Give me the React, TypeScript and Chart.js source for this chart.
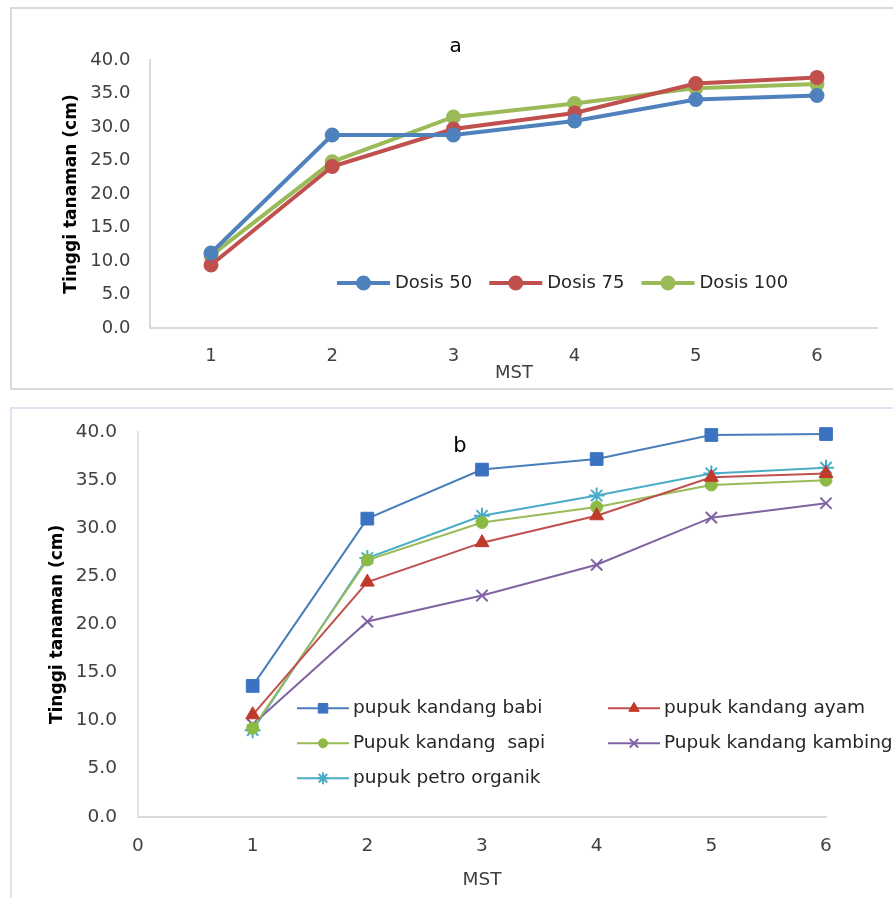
import React, { useEffect, useRef } from 'react';
import { Chart, registerables } from 'chart.js';

Chart.register(...registerables);

// ---------- Data: chart a ----------
const weeksA = ['1', '2', '3', '4', '5', '6'];
const dosis50 = [11.2, 28.8, 28.8, 30.9, 34.1, 34.7];
const dosis75 = [9.4, 24.1, 29.7, 32.1, 36.5, 37.4];
const dosis100 = [10.8, 24.8, 31.5, 33.5, 35.8, 36.4];

// ---------- Data: chart b ----------
const weeksB = [1, 2, 3, 4, 5, 6];
const babi = [13.6, 31.0, 36.1, 37.2, 39.7, 39.8];
const ayam = [10.6, 24.4, 28.5, 31.3, 35.3, 35.7];
const sapi = [9.2, 26.7, 30.6, 32.2, 34.5, 35.0];
const kambing = [9.6, 20.3, 23.0, 26.2, 31.1, 32.6];
const petro = [9.0, 26.9, 31.3, 33.4, 35.7, 36.3];

const FONT = "'DejaVu Sans', Verdana, sans-serif";

function drawMarker(
  ctx: CanvasRenderingContext2D,
  style: string,
  x: number,
  y: number,
  r: number,
  fill: string,
  stroke: string,
  lw: number
) {
  ctx.save();
  ctx.fillStyle = fill;
  ctx.strokeStyle = stroke;
  ctx.lineWidth = lw;
  ctx.beginPath();
  if (style === 'circle') {
    ctx.arc(x, y, r, 0, Math.PI * 2);
    ctx.fill();
    if (lw) ctx.stroke();
  } else if (style === 'rect') {
    const s = r * Math.SQRT1_2;
    ctx.rect(x - s, y - s, 2 * s, 2 * s);
    ctx.fill();
    if (lw) ctx.stroke();
  } else if (style === 'triangle') {
    ctx.moveTo(x, y - r);
    ctx.lineTo(x + r * 0.866, y + r * 0.5);
    ctx.lineTo(x - r * 0.866, y + r * 0.5);
    ctx.closePath();
    ctx.fill();
    if (lw) ctx.stroke();
  } else if (style === 'crossRot' || style === 'star') {
    const d = r * Math.SQRT1_2;
    ctx.moveTo(x - d, y - d);
    ctx.lineTo(x + d, y + d);
    ctx.moveTo(x - d, y + d);
    ctx.lineTo(x + d, y - d);
    if (style === 'star') {
      ctx.moveTo(x, y - r);
      ctx.lineTo(x, y + r);
      ctx.moveTo(x - r, y);
      ctx.lineTo(x + r, y);
    }
    ctx.stroke();
  }
  ctx.restore();
}

type OverlayCfg = {
  id: string;
  title: { text: string; x: number; y: number; size: number };
  legend: {
    size: number;
    lineLen: number;
    gap: number;
    itemGap: number;
    markerScale: number;
    x?: number;
    y?: number;
    cols?: number[];
    rows?: number[];
  };
};

function overlayPlugin(cfg: OverlayCfg) {
  return {
    id: cfg.id,
    afterDraw(chart: any) {
      const ctx: CanvasRenderingContext2D = chart.ctx;
      ctx.save();
      ctx.font = `${cfg.title.size}px ${FONT}`;
      ctx.fillStyle = '#000';
      ctx.textAlign = 'center';
      ctx.textBaseline = 'middle';
      ctx.fillText(cfg.title.text, cfg.title.x, cfg.title.y);

      const lg = cfg.legend;
      ctx.font = `${lg.size}px ${FONT}`;
      ctx.textAlign = 'left';
      let cx = lg.x || 0;
      chart.data.datasets.forEach((ds: any, i: number) => {
        let lx: number, ly: number;
        if (lg.cols && lg.rows) {
          lx = lg.cols[i % lg.cols.length];
          ly = lg.rows[Math.floor(i / lg.cols.length)];
        } else {
          lx = cx;
          ly = lg.y || 0;
        }
        ctx.strokeStyle = ds.borderColor;
        ctx.lineWidth = ds.borderWidth;
        ctx.beginPath();
        ctx.moveTo(lx, ly);
        ctx.lineTo(lx + lg.lineLen, ly);
        ctx.stroke();
        drawMarker(
          ctx,
          ds.pointStyle,
          lx + lg.lineLen / 2,
          ly,
          ds.pointRadius * lg.markerScale,
          ds.pointBackgroundColor,
          ds.pointBorderColor,
          ds.pointBorderWidth
        );
        ctx.fillStyle = '#262626';
        ctx.fillText(ds.label, lx + lg.lineLen + lg.gap, ly);
        cx = lx + lg.lineLen + lg.gap + ctx.measureText(ds.label).width + lg.itemGap;
      });
      ctx.restore();
    },
  };
}

function yTickFmt(v: any) {
  return Number(v).toFixed(1);
}

function topConfig(): any {
  const mk = (label: string, data: number[], color: string) => ({
    label,
    data,
    borderColor: color,
    backgroundColor: color,
    borderWidth: 4,
    pointStyle: 'circle',
    pointRadius: 6,
    pointBorderWidth: 3,
    pointBackgroundColor: color,
    pointBorderColor: color,
    tension: 0,
    clip: false,
  });
  return {
    type: 'line',
    data: {
      labels: weeksA,
      datasets: [
        mk('Dosis 50', dosis50, '#4f81bd'),
        mk('Dosis 75', dosis75, '#c0504d'),
        mk('Dosis 100', dosis100, '#9bbb59'),
      ],
    },
    options: {
      responsive: false,
      animation: false,
      devicePixelRatio: 1,
      layout: { padding: { left: 0, top: 60, right: 15.4, bottom: 0 } },
      plugins: { legend: { display: false }, tooltip: { enabled: false }, title: { display: false } },
      scales: {
        x: {
          type: 'category',
          offset: true,
          grid: { display: false, drawTicks: false },
          border: { display: true, color: '#d9d9d9', width: 2 },
          ticks: { color: '#404040', font: { family: FONT, size: 18 }, padding: 18 },
          title: {
            display: true,
            text: 'MST',
            color: '#404040',
            font: { family: FONT, size: 18 },
            padding: { top: 0, bottom: 14 },
          },
          afterFit: (s: any) => {
            s.height = 70;
          },
        },
        y: {
          min: 0,
          max: 40,
          grid: { display: false, drawTicks: false },
          border: { display: true, color: '#d9d9d9', width: 2 },
          ticks: { stepSize: 5, callback: yTickFmt, color: '#404040', font: { family: FONT, size: 18 }, padding: 20 },
          title: {
            display: true,
            text: 'Tinggi tanaman (cm)',
            color: '#000',
            font: { family: FONT, size: 17, weight: 'bold' },
            padding: { top: 61, bottom: 0 },
          },
          afterFit: (s: any) => {
            s.width = 150.4;
          },
        },
      },
    },
    plugins: [
      overlayPlugin({
        id: 'overlayA',
        title: { text: 'a', x: 455.6, y: 46.7, size: 20 },
        legend: { size: 18, lineLen: 53, gap: 5, itemGap: 17, markerScale: 1, x: 337, y: 283 },
      }),
    ],
  };
}

function botConfig(): any {
  const pts = (vals: number[]) => vals.map((v, i) => ({ x: weeksB[i], y: v }));
  const mk = (
    label: string,
    data: number[],
    line: string,
    marker: string,
    style: string,
    radius: number,
    pbw: number
  ) => ({
    label,
    data: pts(data),
    borderColor: line,
    backgroundColor: marker,
    borderWidth: 2,
    pointStyle: style,
    pointRadius: radius,
    pointBorderWidth: pbw,
    pointBackgroundColor: marker,
    pointBorderColor: marker,
    tension: 0,
    clip: false,
  });
  return {
    type: 'line',
    data: {
      datasets: [
        mk('pupuk kandang babi', babi, '#4a7ebb', '#3b73c2', 'rect', 9, 1),
        mk('pupuk kandang ayam', ayam, '#c0504d', '#c0392b', 'triangle', 8, 1),
        mk('Pupuk kandang  sapi', sapi, '#9bbb59', '#8cba45', 'circle', 6, 1),
        mk('Pupuk kandang kambing', kambing, '#8064a2', '#7f62a6', 'crossRot', 8, 2),
        mk('pupuk petro organik', petro, '#4bacc6', '#4bacc6', 'star', 8, 2),
      ],
    },
    options: {
      responsive: false,
      animation: false,
      devicePixelRatio: 1,
      layout: { padding: { left: 0, top: 31.7, right: 67, bottom: 0 } },
      plugins: { legend: { display: false }, tooltip: { enabled: false }, title: { display: false } },
      scales: {
        x: {
          type: 'linear',
          min: 0,
          max: 6,
          grid: { display: false, drawTicks: false },
          border: { display: true, color: '#d9d9d9', width: 2 },
          ticks: { stepSize: 1, color: '#404040', font: { family: FONT, size: 18.5 }, padding: 18.6 },
          title: {
            display: true,
            text: 'MST',
            color: '#404040',
            font: { family: FONT, size: 18.5 },
            padding: { top: 0, bottom: 7 },
          },
          afterFit: (s: any) => {
            s.height = 81.3;
          },
        },
        y: {
          min: 0,
          max: 40,
          grid: { display: false, drawTicks: false },
          border: { display: true, color: '#e3e3e3', width: 2 },
          ticks: { stepSize: 5, callback: yTickFmt, color: '#404040', font: { family: FONT, size: 18.5 }, padding: 21 },
          title: {
            display: true,
            text: 'Tinggi tanaman (cm)',
            color: '#000',
            font: { family: FONT, size: 17, weight: 'bold' },
            padding: { top: 47, bottom: 0 },
          },
          afterFit: (s: any) => {
            s.width = 138;
          },
        },
      },
    },
    plugins: [
      overlayPlugin({
        id: 'overlayB',
        title: { text: 'b', x: 460, y: 46.7, size: 21 },
        legend: {
          size: 18.5,
          lineLen: 52,
          gap: 4,
          itemGap: 0,
          markerScale: 0.75,
          cols: [297, 608],
          rows: [308.3, 343.3, 378.3],
        },
      }),
    ],
  };
}

export default function App() {
  const topRef = useRef<HTMLCanvasElement>(null);
  const botRef = useRef<HTMLCanvasElement>(null);

  useEffect(() => {
    const c1 = new Chart(topRef.current as HTMLCanvasElement, topConfig());
    const c2 = new Chart(botRef.current as HTMLCanvasElement, botConfig());
    return () => {
      c1.destroy();
      c2.destroy();
    };
  }, []);

  return (
    <div
      style={{
        position: 'absolute',
        left: 0,
        top: 0,
        width: 893,
        height: 898,
        overflow: 'hidden',
        background: '#fff',
      }}
    >
      <div
        style={{
          position: 'absolute',
          left: 10,
          top: 7,
          width: 900,
          height: 383,
          border: '2px solid #d9d9d9',
          boxSizing: 'border-box',
        }}
      />
      <div
        style={{
          position: 'absolute',
          left: 10,
          top: 407,
          width: 900,
          height: 520,
          border: '2px solid #dbe6f2',
          boxSizing: 'border-box',
        }}
      />
      <canvas
        ref={topRef}
        width={893}
        height={398}
        style={{ position: 'absolute', left: 0, top: 0, width: 893, height: 398 }}
      />
      <canvas
        ref={botRef}
        width={893}
        height={498}
        style={{ position: 'absolute', left: 0, top: 400, width: 893, height: 498 }}
      />
    </div>
  );
}
